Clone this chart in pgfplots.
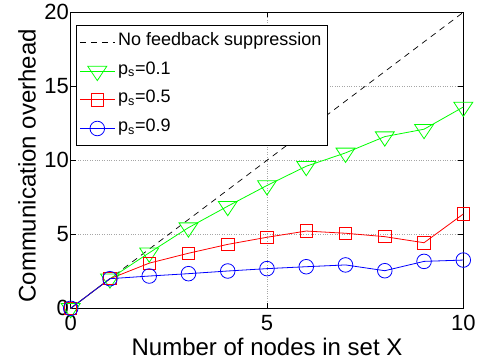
\documentclass[border=0pt]{standalone}
\usepackage{pgfplots}
\pgfplotsset{compat=1.18}
\usepackage{fontspec}
\setmainfont{Liberation Sans}
\definecolor{mgreen}{RGB}{0,255,0}
\definecolor{mred}{RGB}{255,0,0}
\definecolor{mblue}{RGB}{0,0,255}
\begin{document}
\begin{tikzpicture}
\begin{axis}[
  name=ax,
  scale only axis,
  width=392.6pt, height=296pt,
  xmin=0, xmax=10, ymin=0, ymax=20,
  xtick={0,5,10}, ytick={0,5,10,15,20},
  tick align=inside,
  major tick length=5pt,
  tick style={black, line width=0.8pt},
  axis line style={black, line width=1pt},
  grid=major,
  major grid style={gray!70, dotted, line width=0.8pt},
  ticklabel style={font=\fontsize{22}{25}\selectfont},
  xticklabel style={yshift=-3.1pt},
  yticklabel style={xshift=1.6pt},
  /pgf/number format/assume math mode=true,
  label style={font=\fontsize{24}{27}\selectfont},
  xlabel={Number of nodes in set X},
  ylabel={Communication overhead},
  xlabel style={at={(axis description cs:0.5,-0.1611)}, anchor=base},
  ylabel style={at={(axis description cs:-0.0795,0.481)}, anchor=south},
  clip=false,
  legend cell align=left,
  legend style={at={(axis description cs:0,1)}, anchor=north west,
    xshift=5.3pt, yshift=-12.7pt,
    draw=black, line width=0.8pt, inner sep=3pt, row sep=0.7pt,
    nodes={text height=14pt, text depth=8pt, inner sep=3pt},
    font=\fontsize{18}{21}\selectfont},
  legend image code/.code={%
    \draw[mark repeat=2, mark phase=2, #1] plot coordinates {(0pt,0pt) (17.5pt,0pt) (35pt,0pt)};},
]
% reference curve without suppression: one message per node and pair
\addplot[black, line width=0.7pt, dash pattern=on 6pt off 5pt] coordinates {(0,0) (10,20)};
\addlegendentry{No feedback suppression}
\addplot[mgreen, line width=0.8pt, mark=triangle, mark size=9.5pt,
  mark options={draw=mgreen, solid, rotate=180, xscale=1.15}] coordinates {
  (0,0) (1,2.0) (2,3.75) (3,5.45) (4,6.9) (5,8.3) (6,9.6) (7,10.5) (8,11.6) (9,12.1) (10,13.6)};
\addlegendentry{p$_\mathrm{s}$=0.1}
\addplot[mred, line width=0.8pt, mark=square, mark size=6.2pt,
  mark options={draw=mred, solid}] coordinates {
  (0,0) (1,2.0) (2,3.05) (3,3.72) (4,4.32) (5,4.8) (6,5.22) (7,5.07) (8,4.84) (9,4.43) (10,6.37)};
\addlegendentry{p$_\mathrm{s}$=0.5}
\addplot[mblue, line width=0.8pt, mark=o, mark size=7.3pt,
  mark options={draw=mblue, solid}] coordinates {
  (0,0) (1,2.0) (2,2.18) (3,2.34) (4,2.52) (5,2.68) (6,2.81) (7,2.93) (8,2.54) (9,3.17) (10,3.26)};
\addlegendentry{p$_\mathrm{s}$=0.9}
\end{axis}
\pgfresetboundingbox
\path[use as bounding box] ([xshift=-70.7pt,yshift=-55.7pt]ax.south west)
  rectangle ([xshift=13.7pt,yshift=12.3pt]ax.north east);
\end{tikzpicture}
\end{document}
